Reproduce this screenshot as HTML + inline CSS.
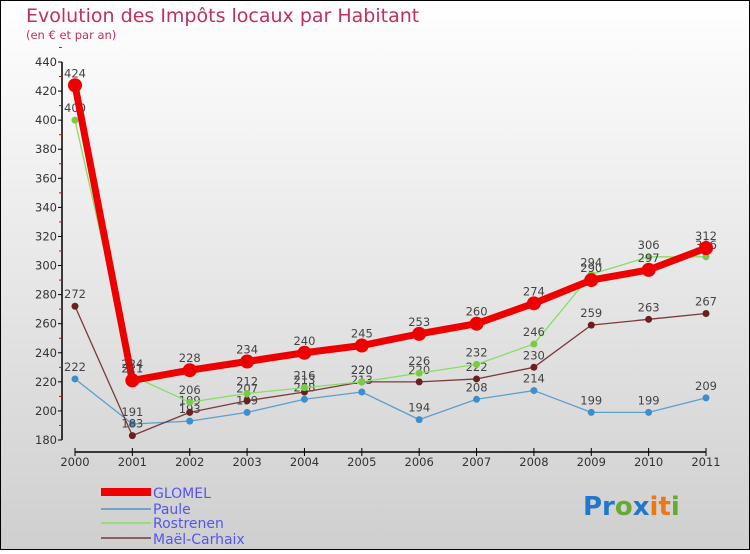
<!DOCTYPE html>
<html><head><meta charset="utf-8"><style>
body{margin:0}
#c{width:750px;height:550px;position:relative;font-family:"DejaVu Sans","Liberation Sans",sans-serif}
</style></head><body>
<div id="c">
<svg id="s" width="750" height="550" xmlns="http://www.w3.org/2000/svg">
<defs><linearGradient id="bg" x1="0" y1="0" x2="0" y2="1"><stop offset="0" stop-color="#ffffff"/><stop offset="1" stop-color="#cfcfcf"/></linearGradient></defs>
<rect x="0.5" y="0.5" width="749" height="549" fill="url(#bg)" stroke="#000"/>
<text x="26" y="22" font-size="19" fill="#c0305a">Evolution des Impôts locaux par Habitant</text>
<text x="26" y="39" font-size="11.5" fill="#c0305a">(en € et par an)</text>
<g id="axes"></g><g id="series"></g>
<g>
<rect x="101" y="488" width="50" height="8" fill="#ee0000"/>
<text x="153" y="498" font-size="14" fill="#5555ee">GLOMEL</text>
<line x1="101" y1="509" x2="151" y2="509" stroke="#6fa4cc" stroke-width="2"/>
<text x="153" y="514" font-size="14" fill="#5555ee">Paule</text>
<line x1="101" y1="523" x2="151" y2="523" stroke="#99dd77" stroke-width="2"/>
<text x="153" y="528" font-size="14" fill="#5555ee">Rostrenen</text>
<line x1="101" y1="538" x2="151" y2="538" stroke="#8b6060" stroke-width="2"/>
<text x="153" y="544" font-size="14" fill="#5555ee">Maël-Carhaix</text>
</g>
<text x="583" y="515" font-size="26" font-weight="bold"><tspan fill="#2277cc">Pr</tspan><tspan fill="#66aa33">o</tspan><tspan fill="#2277cc">x</tspan><tspan fill="#ee7711">i</tspan><tspan fill="#ee7711">t</tspan><tspan fill="#66aa33">i</tspan></text>
</svg>
</div>
<script>
const years=["2000","2001","2002","2003","2004","2005","2006","2007","2008","2009","2010","2011"];
const glomel=[424,221,228,234,240,245,253,260,274,290,297,312];
const paule=[222,191,193,199,208,213,194,208,214,199,199,209];
const rostrenen=[400,224,206,212,216,220,226,232,246,294,306,306];
const mael=[272,183,199,207,213,220,220,222,230,259,263,267];
const yTicks=[180,200,220,240,260,280,300,320,340,360,380,400,420,440];
const NS="http://www.w3.org/2000/svg";
const x=i=>75+i*(706-75)/(years.length-1);
const y=v=>440-(v-180)*(440-62)/260;
function mk(t,a,p){const e=document.createElementNS(NS,t);for(const k in a)e.setAttribute(k,a[k]);p.appendChild(e);return e;}
const ax=document.getElementById('axes');
const ya=mk('line',{x1:62,y1:y(440),x2:62,y2:y(180),stroke:'#000','stroke-width':1.5},ax);


yTicks.forEach(v=>{
 const t=mk('line',{x1:58,y1:y(v),x2:62,y2:y(v),stroke:'#000'},ax);
 
 
 const m=mk('line',{x1:59,y1:y(v+10),x2:62,y2:y(v+10),stroke:'#e00'},ax);
 
 
 const l=mk('text',{x:57,y:y(v)+4,'font-size':11.5,fill:'#333','text-anchor':'end'},ax);
 l.textContent=v;
 
 
});
const xa=mk('line',{x1:75,y1:452,x2:706,y2:452,stroke:'#000','stroke-width':1.5},ax);


years.forEach((yr,i)=>{
 const t=mk('line',{x1:x(i),y1:448,x2:x(i),y2:456,stroke:'#000'},ax);
 
 
 const l=mk('text',{x:x(i),y:466,'font-size':11.5,fill:'#333','text-anchor':'middle'},ax);
 l.textContent=yr;
 
 
});
const sg=document.getElementById('series');
function series(name,vals,color,dot,w,r){
 const g=mk('g',{},sg);
 
 
 const pl=mk('polyline',{points:vals.map((v,i)=>x(i)+','+y(v)).join(' '),fill:'none',stroke:color,'stroke-width':w,'stroke-linejoin':'round'},g);
 
 
 vals.forEach((v,i)=>{
  const c=mk('circle',{cx:x(i),cy:y(v),r:r,fill:dot},g);
  
  
  const l=mk('text',{x:x(i),y:y(v)-8,'font-size':11.5,fill:'#444','text-anchor':'middle'},g);
  l.textContent=v;
  
  
 });
}
series('paule',paule,'#5d9fcc','#3c8fcc',1.3,3.5);
series('mael-carhaix',mael,'#7a3a3a','#6a2020',1.3,3.5);
series('rostrenen',rostrenen,'#88dd66','#77cc44',1.3,3.5);
series('glomel',glomel,'#ee0000','#ee0000',7,7);
</script>
</body></html>
